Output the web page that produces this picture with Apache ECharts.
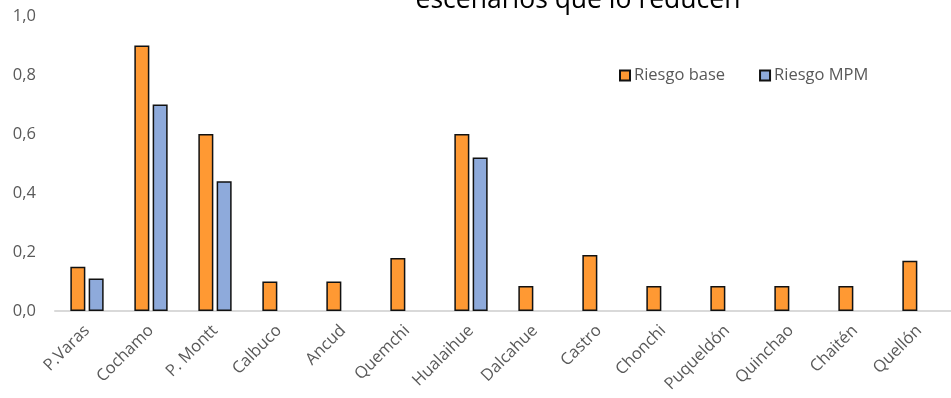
<!DOCTYPE html>
<html>
<head>
<meta charset="utf-8">
<script src="https://cdn.jsdelivr.net/npm/echarts@6/dist/echarts.min.js"></script>
<style>html,body{margin:0;padding:0;background:#fff}#c{width:951px;height:398px}</style>
</head>
<body>
<div id="c"></div>
<script>
const categories = ['P.Varas','Cochamo','P. Montt','Calbuco','Ancud','Quemchi','Hualaihue','Dalcahue','Castro','Chonchi','Puqueldón','Quinchao','Chaitén','Quellón'];
const riesgoBase = [0.15, 0.90, 0.60, 0.10, 0.10, 0.18, 0.60, 0.085, 0.19, 0.085, 0.085, 0.085, 0.085, 0.17];
const riesgoMPM  = [0.11, 0.70, 0.44, null, null, null, 0.52, null, null, null, null, null, null, null];
const yTicks = [0, 0.2, 0.4, 0.6, 0.8, 1.0];
const titleText = 'escenarios que lo reducen';

const font = '"Open Sans", "Noto Sans", sans-serif';
const chart = echarts.init(document.getElementById('c'));
chart.setOption({
  animation: false,
  backgroundColor: '#fff',
  title: {
    text: titleText,
    left: 573, top: -18,
    textAlign: 'center',
    textStyle: { fontFamily: font, fontSize: 26.5, fontWeight: 'normal', color: '#000' }
  },
  legend: {
    left: 614, top: 62,
    itemWidth: 10, itemHeight: 10, itemGap: 34,
    icon: 'rect',
    textStyle: { fontFamily: font, fontSize: 16.5, color: '#595959', padding: [0,0,0,-1] },
    data: ['Riesgo base', 'Riesgo MPM']
  },
  grid: { left: 55, right: -10.5, top: 16, bottom: 87, containLabel: false },
  xAxis: {
    type: 'category',
    data: categories,
    axisLine: { lineStyle: { color: '#d9d9d9', width: 2 } },
    axisTick: { show: false },
    axisLabel: { rotate: 45, interval: 0, margin: 17, fontFamily: font, fontSize: 16.5, color: '#595959' }
  },
  yAxis: {
    type: 'value',
    min: yTicks[0], max: yTicks[yTicks.length-1], interval: 0.2,
    axisLine: { show: false },
    axisTick: { show: false },
    splitLine: { show: false },
    axisLabel: {
      margin: 19, fontFamily: font, fontSize: 16.5, color: '#595959',
      formatter: v => v.toFixed(1).replace('.', ',')
    }
  },
  series: [
    { name: 'Riesgo base', type: 'bar', data: riesgoBase, barWidth: 15, barGap: '22%',
      itemStyle: { color: '#ff9933', borderColor: '#111', borderWidth: 1.5 } },
    { name: 'Riesgo MPM', type: 'bar', data: riesgoMPM, barWidth: 15, barGap: '22%',
      itemStyle: { color: '#8eaadb', borderColor: '#111', borderWidth: 1.5 } }
  ]
});
</script>
</body>
</html>
